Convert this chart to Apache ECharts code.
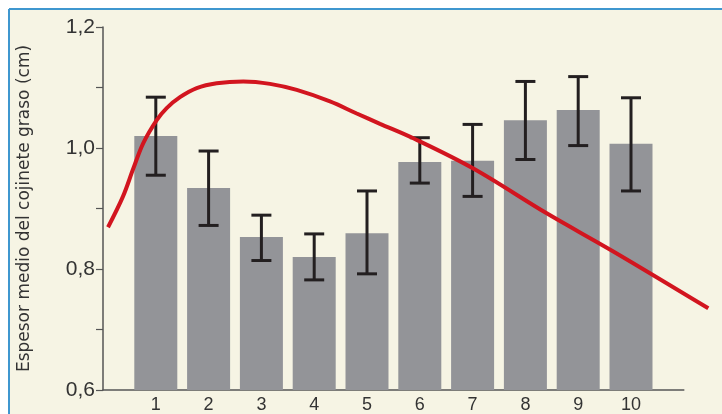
<!DOCTYPE html>
<html>
<head>
<meta charset="utf-8">
<script src="https://cdn.jsdelivr.net/npm/echarts@6/dist/echarts.min.js"></script>
<style>
  html, body { margin: 0; padding: 0; background: #ffffff; }
  #chart { width: 722px; height: 414px; }
</style>
</head>
<body>
<div id="chart"></div>
<script>
// Mean fat-pad thickness per group, with error bars and a fitted curve
const categories = ['1', '2', '3', '4', '5', '6', '7', '8', '9', '10'];
const means = [1.020, 0.934, 0.853, 0.820, 0.859, 0.977, 0.979, 1.046, 1.063, 1.007];
const errLow = [0.955, 0.872, 0.814, 0.782, 0.792, 0.942, 0.920, 0.981, 1.004, 0.929];
const errHigh = [1.084, 0.995, 0.889, 0.858, 0.929, 1.017, 1.039, 1.110, 1.118, 1.083];
// Fitted trend curve (x in category units, y in cm)
const curveX = [0.095, 0.379, 0.574, 0.763, 1.017, 1.206, 1.458, 1.775, 2.153, 2.657,
                3.163, 3.669, 4.299, 4.805, 5.246, 5.877, 7.014, 8.403, 9.665, 11.464];
const curveY = [0.869, 0.920, 0.966, 1.008, 1.046, 1.066, 1.084, 1.099, 1.107, 1.110,
                1.106, 1.096, 1.077, 1.057, 1.040, 1.016, 0.966, 0.892, 0.829, 0.735];
const yTicks = [0.6, 0.8, 1.0, 1.2];
const yTitle = 'Espesor medio del cojinete graso (cm)';

const barData = categories.map((c, i) => [i + 1, means[i]]);
const errData = categories.map((c, i) => [i + 1, errLow[i], errHigh[i]]);
const curveData = curveX.map((x, i) => [x, curveY[i]]);

// Plot geometry: the main axis spans 0..11, the curve overlay runs a bit past it
const plotLeft = 103, plotTop = 27, plotBottom = 24;
const xMax = 11, unitPx = 52.8;
const curveMax = 11.6;
const W = 722;

const chart = echarts.init(document.getElementById('chart'), null, { renderer: 'canvas' });

chart.setOption({
  animation: false,
  backgroundColor: '#ffffff',
  graphic: [
    { type: 'rect', z: -10, silent: true,
      shape: { x: 9, y: 9, width: 713, height: 405 },
      style: { fill: '#f6f4e4' } },
    { type: 'line', z: -9, silent: true,
      shape: { x1: 9, y1: 9, x2: 722, y2: 9 },
      style: { stroke: '#3f97cf', lineWidth: 2 } },
    { type: 'line', z: -9, silent: true,
      shape: { x1: 9, y1: 9, x2: 9, y2: 414 },
      style: { stroke: '#3f97cf', lineWidth: 2 } }
  ],
  grid: [
    { left: plotLeft, right: W - plotLeft - xMax * unitPx, top: plotTop, bottom: plotBottom },
    { left: plotLeft, right: W - plotLeft - curveMax * unitPx, top: plotTop, bottom: plotBottom }
  ],
  xAxis: [
    {
      type: 'value', gridIndex: 0,
      min: 0, max: xMax, interval: 1,
      axisLine: { show: true, lineStyle: { color: '#555555', width: 1.5 } },
      axisTick: { show: false },
      splitLine: { show: false },
      axisLabel: {
        margin: 6,
        color: '#333333',
        fontFamily: 'Liberation Sans Narrow, Liberation Sans, sans-serif',
        fontSize: 18,
        formatter: v => (v >= 1 && v <= categories.length) ? categories[v - 1] : ''
      }
    },
    {
      type: 'value', gridIndex: 1,
      min: 0, max: curveMax, show: false
    }
  ],
  yAxis: [
    {
      type: 'value', gridIndex: 0,
      min: 0.6, max: 1.2, interval: 0.1,
      name: yTitle,
      nameLocation: 'middle',
      nameGap: 70,
      nameTextStyle: {
        color: '#333333',
        fontFamily: 'DejaVu Sans, sans-serif',
        fontSize: 17
      },
      axisLine: { show: true, lineStyle: { color: '#555555', width: 1.5 } },
      axisTick: { show: true, length: 7, lineStyle: { color: '#555555', width: 1.2 } },
      splitLine: { show: false },
      axisLabel: {
        margin: 8,
        color: '#333333',
        fontFamily: 'Liberation Sans Narrow, Liberation Sans, sans-serif',
        fontSize: 21,
        formatter: v => {
          const hit = yTicks.find(t => Math.abs(t - v) < 1e-6);
          return hit !== undefined ? hit.toFixed(1).replace('.', ',') : '';
        }
      }
    },
    {
      type: 'value', gridIndex: 1,
      min: 0.6, max: 1.2, show: false
    }
  ],
  series: [
    {
      type: 'bar',
      xAxisIndex: 0, yAxisIndex: 0,
      data: barData,
      barWidth: 43,
      itemStyle: { color: '#939498' },
      z: 2
    },
    {
      type: 'custom',
      xAxisIndex: 0, yAxisIndex: 0,
      data: errData,
      z: 3,
      renderItem: (params, api) => {
        const x = api.value(0);
        const lo = api.coord([x, api.value(1)]);
        const hi = api.coord([x, api.value(2)]);
        const half = 10;
        const st = { stroke: '#231f20', lineWidth: 3 };
        return {
          type: 'group',
          children: [
            { type: 'line', shape: { x1: hi[0], y1: hi[1], x2: lo[0], y2: lo[1] }, style: st },
            { type: 'line', shape: { x1: hi[0] - half, y1: hi[1], x2: hi[0] + half, y2: hi[1] }, style: st },
            { type: 'line', shape: { x1: lo[0] - half, y1: lo[1], x2: lo[0] + half, y2: lo[1] }, style: st }
          ]
        };
      }
    },
    {
      type: 'line',
      xAxisIndex: 1, yAxisIndex: 1,
      data: curveData,
      smooth: 0.35,
      showSymbol: false,
      clip: false,
      lineStyle: { color: '#d2151f', width: 4 },
      z: 4
    }
  ]
});
</script>
</body>
</html>
